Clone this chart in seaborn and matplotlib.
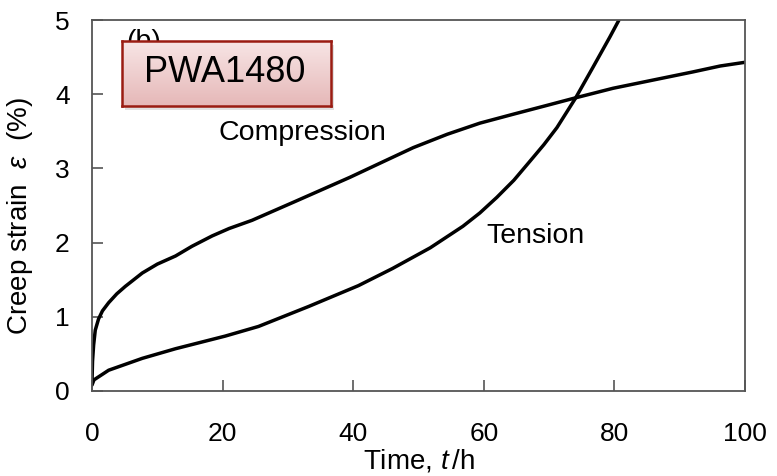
import numpy as np
import pandas as pd
import matplotlib
matplotlib.use("Agg")
import matplotlib.pyplot as plt
import seaborn as sns

# ---- data ----
comp_t = [0, 0.08, 0.25, 0.5, 1.0, 1.6, 2.55, 3.8, 5.1, 7.7, 10, 12.8, 15.3, 18.4, 21, 24.5, 31, 39.5, 44.1, 49.2, 54.4, 59.4, 64.5, 69.7, 74, 79.8, 87, 92, 96.2, 100]
comp_v = [0.12, 0.4, 0.62, 0.82, 0.97, 1.08, 1.19, 1.31, 1.41, 1.59, 1.71, 1.82, 1.95, 2.09, 2.19, 2.30, 2.55, 2.88, 3.07, 3.28, 3.46, 3.61, 3.73, 3.85, 3.95, 4.08, 4.21, 4.30, 4.38, 4.43]
tens_t = [0, 0.3, 2.55, 7.7, 12.8, 20.4, 25.5, 33.2, 40.8, 46, 51.8, 56.8, 59.4, 62.0, 64.6, 67.1, 69.2, 71.2, 74.0, 76.7, 79.3, 80.7]
tens_v = [0.08, 0.15, 0.28, 0.44, 0.57, 0.74, 0.87, 1.14, 1.42, 1.65, 1.93, 2.22, 2.40, 2.61, 2.84, 3.10, 3.32, 3.55, 3.94, 4.36, 4.77, 5.0]
x_ticks = [0, 20, 40, 60, 80, 100]
y_ticks = [0, 1, 2, 3, 4, 5]
series_names = ["Compression", "Tension"]

df = pd.concat([
    pd.DataFrame({"t": comp_t, "v": comp_v, "s": series_names[0]}),
    pd.DataFrame({"t": tens_t, "v": tens_v, "s": series_names[1]}),
])

sns.set_style("ticks")
plt.rcParams["font.family"] = ["Liberation Sans", "DejaVu Sans"]
plt.rcParams["text.color"] = "black"
plt.rcParams["axes.labelcolor"] = "black"
plt.rcParams["mathtext.fontset"] = "custom"
plt.rcParams["mathtext.rm"] = "Liberation Sans"
plt.rcParams["mathtext.it"] = "Liberation Sans:italic"

fig = plt.figure(figsize=(7.77, 4.76), dpi=100)
ax = fig.add_axes([92/777, 1-391/476, 653/777, 371/476])

sns.lineplot(data=df, x="t", y="v", units="s", estimator=None, sort=False,
             color="black", linewidth=2.5, ax=ax, legend=False)
for ln in ax.lines:
    ln.set_solid_joinstyle("round")
    ln.set_solid_capstyle("round")

ax.set_xlim(0, 100)
ax.set_ylim(0, 5)
ax.set_xticks(x_ticks)
ax.set_yticks(y_ticks)
ax.tick_params(axis="both", direction="in", length=8, width=1.2, color="#555555",
               labelsize=19, labelcolor="black")
ax.tick_params(axis="x", pad=22)
ax.tick_params(axis="y", pad=16)
for sp in ax.spines.values():
    sp.set_visible(True)
    sp.set_color("#555555")
    sp.set_linewidth(1.3)

ax.set_xlabel("Time, $t\\,$/h", fontsize=20, labelpad=0)
ax.xaxis.set_label_coords(0.5, -0.152)
ax.set_ylabel("Creep strain  $\\varepsilon$  (%)", fontsize=20)
ax.yaxis.set_label_coords(-0.087, 0.47)

ax.text((218-92)/653, (391-133)/371, "Compression", transform=ax.transAxes,
        fontsize=20.5, ha="left", va="center")
ax.text((486-92)/653, (391-236)/371, "Tension", transform=ax.transAxes,
        fontsize=20.5, ha="left", va="center")
ax.text((126-92)/653, (391-29)/371, "(b)", transform=ax.transAxes,
        fontsize=20.5, ha="left", va="top", zorder=1)

# PWA1480 label box with shadow and gradient
bx0, by0, bw, bh = 122/777, 1-106/476, 209/777, 65/476
shadow = fig.add_axes([bx0+3/777, by0-4/476, bw, bh], zorder=5)
shadow.set_facecolor("#c4c4c4")
shadow.patch.set_alpha(0.5)
shadow.set_xticks([]); shadow.set_yticks([])
for sp in shadow.spines.values():
    sp.set_visible(False)

box = fig.add_axes([bx0, by0, bw, bh], zorder=6)
grad = np.linspace(0, 1, 100).reshape(-1, 1)
top = np.array([0.97, 0.90, 0.90])
bot = np.array([0.90, 0.72, 0.72])
img = top[None, None, :] * (1 - grad[:, :, None]) + bot[None, None, :] * grad[:, :, None]
box.imshow(img, aspect="auto", extent=[0, 1, 0, 1])
box.set_xlim(0, 1); box.set_ylim(0, 1)
box.set_xticks([]); box.set_yticks([])
for sp in box.spines.values():
    sp.set_color("#9a1c12")
    sp.set_linewidth(1.8)
box.text(0.49, 0.52, "PWA1480", fontsize=26, ha="center", va="center", color="black")

fig.savefig("out.png", dpi=100)
